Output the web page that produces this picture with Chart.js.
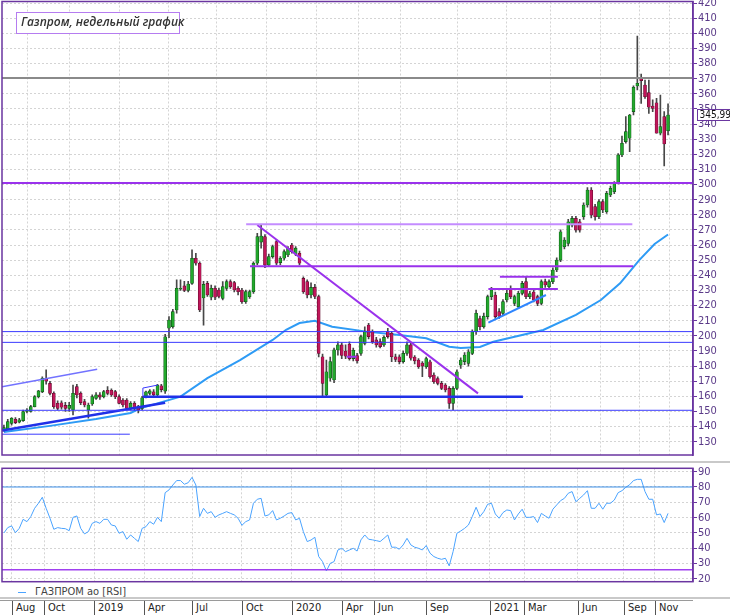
<!DOCTYPE html>
<html>
<head>
<meta charset="utf-8">
<script src="https://cdn.jsdelivr.net/npm/chart.js@4.4.0/dist/chart.umd.min.js"></script>
<style>
  body { margin: 0; background: #fff; width: 730px; height: 615px; overflow: hidden; position: relative; }
  #main { position: absolute; left: 0; top: 0; }
  #rsi { position: absolute; left: 0; top: 464px; }
  .sep { position: absolute; left: 0; width: 730px; height: 2px; background: #c9c9c9; }
  #title { position: absolute; left: 16px; top: 12px; width: 164px; height: 22px; box-sizing: border-box;
           border: 1.5px solid #b57cf0; background: #fff; padding-left: 4px; line-height: 19px;
           font: italic 600 12px 'Open Sans', sans-serif; color: #333; white-space: nowrap; }
  #rsiLegend { position: absolute; left: 18px; top: 585px; height: 14px; font: 11px 'Liberation Sans Narrow', 'DejaVu Sans Condensed', sans-serif; color: #444; }
  #rsiLegend .ln { position: absolute; left: 0; top: 7px; width: 8px; height: 1px; background: #4aa3ff; }
  #rsiLegend .tx { position: absolute; left: 17px; top: 0; white-space: nowrap; line-height: 14px; }
  #strip { position: absolute; left: 0; top: 600px; width: 693px; height: 15px; background: #fff; border-top: 1px solid #9a9a9a; box-sizing: border-box; }
  .mtick { position: absolute; top: 0; height: 14px; border-left: 1px solid #555; padding-left: 3px; line-height: 14px;
           font: 11px 'Liberation Sans Narrow', 'DejaVu Sans Condensed', sans-serif; color: #222; white-space: nowrap; }
</style>
</head>
<body>
<canvas id="main" width="730" height="458"></canvas>
<div class="sep" style="top:461px"></div>
<canvas id="rsi" width="730" height="120"></canvas>
<div id="title">Газпром, недельный график</div>
<div id="rsiLegend"><span class="ln"></span><span class="tx">ГАЗПРОМ ао [RSI]</span></div>
<div class="sep" style="top:597px"></div>
<div id="strip"></div>
<script>
// weekly bars, week 0 = 23 Jul 2018
const opens = [
  137.8,138.5,142.2,144.9,143,144,150,150,153.2,159.8,
  163,172,168.6,162,155.4,155.8,154,152,151,166.4,
  162,156.5,151,155,158.7,161,159.8,164,164,163.1,
  159.8,157.6,157.6,152.1,155.4,153.2,152,160,162,163,
  160.9,167,163.5,205,206,217.1,230.8,233,230,234.7,
  251.3,248,225,234.7,225.5,231.4,230.3,224.8,231.4,235.8,
  235.2,231.4,230.3,222.6,225.9,229.2,248,262,265.6,246.9,
  252.4,262.3,248.4,251.3,253.5,260,254,254.6,238,235.8,
  227,232,226,186.2,160.9,172,170.8,190.7,194,190,
  194.5,185,187,188.4,195,207.2,202.8,197.3,196.2,194,
  202.8,201.7,186.2,186.2,183,188.4,194,186,184,182,
  179.6,182.9,174.1,171.8,168.6,167.5,165.3,155.4,165.3,180.7,
  183,181.8,188.4,202.8,211.5,206,212.7,225.9,227,216,
  214.9,223.7,231.4,221.5,219.3,228.1,235.8,225.9,229,225.9,
  221.5,235.8,232.5,235.8,243.5,250.1,258.9,261.1,273.2,277.6,
  275.4,278.7,286.5,296.4,285.4,278.7,288.7,282.1,293.1,295.3,
  301.3,319.6,328.4,330.6,348.2,365.2,370.2,365.8,360.8,351.9,
  354.1,333.9,344.9,335.6
];
const highs = [
  141,144.9,146,146,145.5,151,152,154,160.5,164,
  173,177.5,170,163,157,157,156,156,167.5,168,
  163,158,155.5,161,162.5,162.5,164,166.4,165,164,
  161,158.5,158.5,156.5,156.5,154,160,163.5,164.5,164.5,
  168,168,201,212.7,217.5,237,237,236,236,256.8,
  254.6,249,236,236,233.5,233,231.5,235.8,237,237,
  236,232.5,231.4,230.3,230.3,249,267.8,273.3,267,254,
  260,263.4,252.4,256.8,259,261.2,259,256,239,237,
  235,234,227,188,184,186,192,196,195.5,194,
  196,192,188.5,200.5,206,208.3,204,199,198,200,
  205,203,188,187.5,190,196,195,187,185,183,
  186,184,175.5,173,170,168.5,166.5,166.5,177.5,185.5,
  189,191,204,217,213,215,227,232,229,218,
  224,231.4,233,227,229.5,236,238.7,229.5,230.5,227,
  237,237.5,237,245,251.5,270,265,277,279,279,
  277,288,298,298,287,290,290,295.5,299,302,
  320.5,332,344.9,346.5,365.2,398.2,373.1,369,369.1,356,
  357,359.2,348.2,353.3
];
const lows = [
  137,138,141,142,142.5,143.5,149,149.5,153,159,
  162.5,168,161,152,151,151.5,150,150,147.7,159,
  154.5,153,145.6,154,158,158,159,161,160,158.5,
  155,153,151,151,151,149,151,159,161,160,
  160,163,162,198.8,205,215,230,229.2,229,234,
  246.8,216,207,226,223.7,224,225,223.7,230,231.4,
  229,227,221.5,221.5,224.8,228,247,258,245,245.8,
  251.3,246.9,247,250,252.4,254.6,253,246.9,228,225,
  225,224.5,186,159.8,159.4,170,169,187.3,185,185,
  184,183.5,182,187,194,198,195,192.5,192,193,
  198.5,183,183,181.5,182,187,184,181.5,178.5,173,
  178.5,172,168.5,167.5,164.5,163,152,151,164.5,178.5,
  181,180,187.5,201,204,205,211,224,211.5,211.5,
  213.5,222.5,224.5,220,218,227,224.5,224.5,222.5,220,
  220.5,232,231,234.5,242.5,249,257.5,259.5,272,268.5,
  268.5,277,285,278,276.5,277.5,281.5,281,292,294,
  300.5,318.5,327.3,321.8,346,362.5,353.7,357,347.1,348.2,
  333.9,332.8,312.3,332.8
];
const closes = [
  139.3,143.3,145.5,142.7,144.5,150,151,153.2,159.8,163.6,
  172,170,162,153.2,152.1,152.8,152,154,162,160.9,
  155.9,154.3,154.3,159.8,161,159.5,163.1,162,160.9,159.8,
  155.4,154.3,152.1,155.4,152.1,151,159.1,163,163.6,161,
  167.5,164.5,199.4,210.5,216,231.4,231.4,230,234.3,251.3,
  248,217.1,234,227,231.4,225.5,226,232.5,235.8,232.5,
  230.3,229.2,222.6,229.2,229.2,248,265.6,266,246.9,252.4,
  259,248,251.3,255.7,257.9,255.7,258,248,229.2,227,
  232,226,188.4,168.6,176.3,183,190.7,194,187,186.5,
  185,190.5,183.5,199.5,202.8,199.5,196.2,194,192.9,199,
  199.5,186.2,184.5,183,188.4,194,185.2,183.5,179.6,180,
  185,173,169.7,168.6,165.3,164.2,155.4,165.3,176.3,184,
  187.3,189.5,202.8,214.9,206,213,225.9,230.3,212.7,213,
  222.6,228.1,225.9,225.9,228.1,234.7,225.9,228,223.7,221.5,
  235.8,233.6,235.8,243.5,250.1,268.8,263.3,275.4,277.6,269.9,
  269.9,286.5,296.4,279.8,278.7,288.7,283.2,294.2,297.5,300.8,
  319.6,327.3,335,346,364.3,366.9,368.7,358.1,351.1,350.4,
  333.9,338.3,326.8,345.99
];
const rsiValues = [
  50,53.5,54.6,50.2,53,58.9,57.4,60.7,66.1,69.4,
  73.3,66.1,59.6,52.4,53.5,53,52.8,51.5,60.2,61.1,
  53,49.4,50.9,56.3,57.4,56.3,58.9,58.9,55.2,54.6,
  49.8,50.9,45.9,48.7,46.5,44.4,53,54.1,57.4,55.7,
  60.2,57.4,76.3,78.1,81.3,84.2,84.2,81.8,82.8,86.3,
  81.3,60.7,66.1,62.8,63.9,60.2,61.8,62.8,63.9,62.8,
  61.8,59.6,55,57.4,58.5,69.4,72,72.6,61.1,61.8,
  64.6,58.5,59.6,61.1,62.8,63.3,58.5,59.6,50.9,44.4,
  45.4,47.2,34.6,31.3,25.2,30.2,31.3,38.9,40,37.8,
  38.9,40,38.2,45.5,48.7,45.9,45.5,45,44.4,46.5,
  48.7,40.7,40.7,39.4,42.2,46.5,42.2,40.7,40,38.9,
  41.8,36.8,34.6,33.5,32.8,33.5,28.5,37.8,49.8,51.3,
  53,55.2,60.7,66.8,60.7,63.9,68.7,69.4,62.4,59.6,
  63.3,65,64.6,58.5,62.4,65.5,60.2,60.2,60.7,56.8,
  62.8,61.1,59.6,65.5,68.3,71.1,72.6,75.9,77,70.4,
  72.6,74.8,77.6,66.1,66.1,69.4,65.5,69.4,69.4,71.5,
  76.3,77.6,79.8,81.5,84.2,85,85,77,72,72,
  61.8,62.4,56.8,62.8
];
// moving average read at sample weeks
const maWeeks  = [0, 12, 24, 33, 35.5, 46, 53, 61.5, 70, 73.5, 77, 81, 85.5, 94.5, 103, 110, 116, 119, 124, 127.5, 140.5, 149, 155.5, 160.5, 165.5, 169.5, 173];
const maValues = [136.5, 140.5, 145, 149, 152.1, 159.8, 172, 184, 197.3, 204, 208.5, 210, 206, 202.8, 200.6, 198.4, 192.8, 192, 192.6, 196.1, 203.9, 213.8, 223.7, 234.7, 250.1, 260.7, 267];
// drawn lines: [week1, price1, week2, price2]
const grayLines   = [[-0.5, 370.5, 179.5, 370.5]];
const purpleLines = [[-0.5, 301, 179.5, 301], [64.1, 246, 163.9, 246], [129.2, 239.1, 144.3, 239.1],
                     [126.2, 231, 144.3, 231], [66, 273.3, 123.5, 162], [89.3, 186.2, 91.9, 186.2]];
const lilacLines  = [[63.1, 273.7, 163.7, 273.7]];
const blueLines   = [[-0.5, 202.8, 179.5, 202.8], [-0.5, 195.7, 179.5, 195.7], [-0.5, 150.8, 179.5, 150.8],
                     [-0.5, 135, 32.8, 135], [36.2, 165.5, 40.1, 167.5], [36.2, 160, 36.2, 165.5]];
const lightBlueLines = [[-0.5, 166.4, 24.3, 178]];
const boldBlueLines  = [[36.2, 159.8, 135.2, 159.8], [-0.5, 137.5, 42, 155.8]];
const channelLines   = [[126.2, 208.7, 141.2, 227]];
const rsiLevels = [80, 26];
const monthPos   = [2, 10.5, 23.5, 36.5, 49, 62, 75, 88, 96.5, 110, 126.5, 135.5, 149.5, 161.5, 169.5];
const monthNames = ['Aug', 'Oct', '2019', 'Apr', 'Jul', 'Oct', '2020', 'Apr', 'Jun', 'Sep', '2021', 'Mar', 'Jun', 'Sep', 'Nov'];

const FRAME = '#6a35a0';
const LABEL = '#5a3a88';
const GRID = '#d4d4d4';
const NARROW = "'Liberation Sans Narrow', 'DejaVu Sans Condensed', sans-serif";

const segs = (list, color, width) => list.map(s => ({
  type: 'line',
  data: [{x: s[0], y: s[1]}, {x: s[2], y: s[3]}],
  borderColor: color, borderWidth: width, pointRadius: 0, fill: false, order: -1
}));

const xAxis = () => ({
  type: 'linear', min: -0.5, max: 179.5, offset: false,
  afterBuildTicks: s => { s.ticks = monthPos.map(v => ({value: v})); },
  afterFit: s => { s.height = 0; s.paddingLeft = 0; s.paddingRight = 0; },
  ticks: {display: false},
  grid: {color: GRID, drawTicks: false},
  border: {display: false, dash: [2, 2]}
});

const yAxis = (min, max, lo, hi) => ({
  position: 'right', min: min, max: max,
  ticks: {stepSize: 10, includeBounds: false, autoSkip: false, color: LABEL, padding: 1, font: {family: NARROW, size: 11}},
  afterBuildTicks: s => { s.ticks = s.ticks.filter(t => t.value % 10 === 0 && t.value >= lo && t.value <= hi); },
  afterFit: s => { s.width = 37; s.paddingTop = 0; s.paddingBottom = 0; },
  grid: {color: GRID, tickColor: FRAME, tickLength: 4},
  border: {display: true, color: FRAME, width: 1.5, dash: [2, 2]}
});

const framePlugin = {
  id: 'frame',
  afterDatasetsDraw(chart) {
    const {ctx, chartArea: a} = chart;
    ctx.save();
    ctx.strokeStyle = FRAME;
    ctx.lineWidth = 1.5;
    ctx.strokeRect(a.left, a.top, a.right - a.left, a.bottom - a.top);
    ctx.restore();
  }
};

const priceTag = {
  id: 'priceTag',
  afterDraw(chart) {
    const {ctx, chartArea: a} = chart;
    const last = closes[closes.length - 1];
    const y = chart.scales.y.getPixelForValue(last);
    const txt = last.toFixed(2).replace('.', ',');
    ctx.save();
    ctx.font = '10px ' + NARROW;
    const w = Math.ceil(ctx.measureText(txt).width) + 4;
    ctx.fillStyle = '#fff';
    ctx.strokeStyle = FRAME;
    ctx.lineWidth = 1;
    ctx.fillRect(a.right + 4.5, y - 5.5, w, 11);
    ctx.strokeRect(a.right + 4.5, y - 5.5, w, 11);
    ctx.fillStyle = '#111';
    ctx.textAlign = 'left';
    ctx.textBaseline = 'middle';
    ctx.fillText(txt, a.right + 6.5, y + 0.5);
    ctx.restore();
  }
};

const up = opens.map((o, i) => closes[i] >= o);

const mainChart = new Chart(document.getElementById('main'), {
  type: 'bar',
  data: {
    datasets: [
      {
        data: opens.map((o, i) => ({x: i, y: [o, closes[i]]})),
        backgroundColor: up.map(u => u ? '#22a82c' : '#c0165a'),
        borderColor: up.map(u => u ? '#0d4f14' : '#5e0a2a'),
        borderWidth: 0.6, borderSkipped: false,
        barThickness: 3, minBarLength: 1, grouped: false, order: 1
      },
      {
        data: lows.map((l, i) => ({x: i, y: [l, highs[i]]})),
        backgroundColor: '#474747',
        barThickness: 1, grouped: false, order: 2
      },
      {
        type: 'line',
        data: maWeeks.map((w, k) => ({x: w, y: maValues[k]})),
        borderColor: '#2e9bf5', borderWidth: 2, pointRadius: 0, fill: false, order: 3
      },
      ...segs(grayLines, '#8a8a8a', 2),
      ...segs(lilacLines, '#c48cff', 2),
      ...segs(purpleLines, '#9a32ec', 2),
      ...segs(blueLines, '#3a3aff', 1),
      ...segs(lightBlueLines, '#7272ff', 1.5),
      ...segs(boldBlueLines, '#2030e8', 2.5),
      ...segs(channelLines, '#2f86ff', 2)
    ]
  },
  options: {
    responsive: false, animation: false, events: [],
    layout: {padding: {left: 2, top: 1.5, right: 0, bottom: 3}},
    plugins: {legend: {display: false}, tooltip: {enabled: false}},
    scales: {x: xAxis(), y: yAxis(121.25, 421, 130, 420)}
  },
  plugins: [framePlugin, priceTag]
});

new Chart(document.getElementById('rsi'), {
  type: 'line',
  data: {
    datasets: [
      {
        data: rsiValues.map((v, i) => ({x: i, y: v})),
        borderColor: '#4aa3ff', borderWidth: 1, pointRadius: 0, fill: false
      },
      ...segs([[-0.5, rsiLevels[0], 179.5, rsiLevels[0]]], '#3a8ee6', 1),
      ...segs([[-0.5, rsiLevels[1], 179.5, rsiLevels[1]]], '#a040f0', 1.5)
    ]
  },
  options: {
    responsive: false, animation: false, events: [],
    layout: {padding: {left: 2, top: 4.3, right: 0, bottom: 2.3}},
    plugins: {legend: {display: false}, tooltip: {enabled: false}},
    scales: {x: xAxis(), y: yAxis(18.2, 92.2, 20, 90)}
  },
  plugins: [framePlugin]
});

// month strip under the panels, placed with the main chart's x scale
const strip = document.getElementById('strip');
const xs = mainChart.scales.x;
monthPos.forEach((p, k) => {
  const d = document.createElement('div');
  d.className = 'mtick';
  d.style.left = Math.round(xs.getPixelForValue(p)) + 'px';
  d.textContent = monthNames[k];
  strip.appendChild(d);
});
</script>
</body>
</html>
